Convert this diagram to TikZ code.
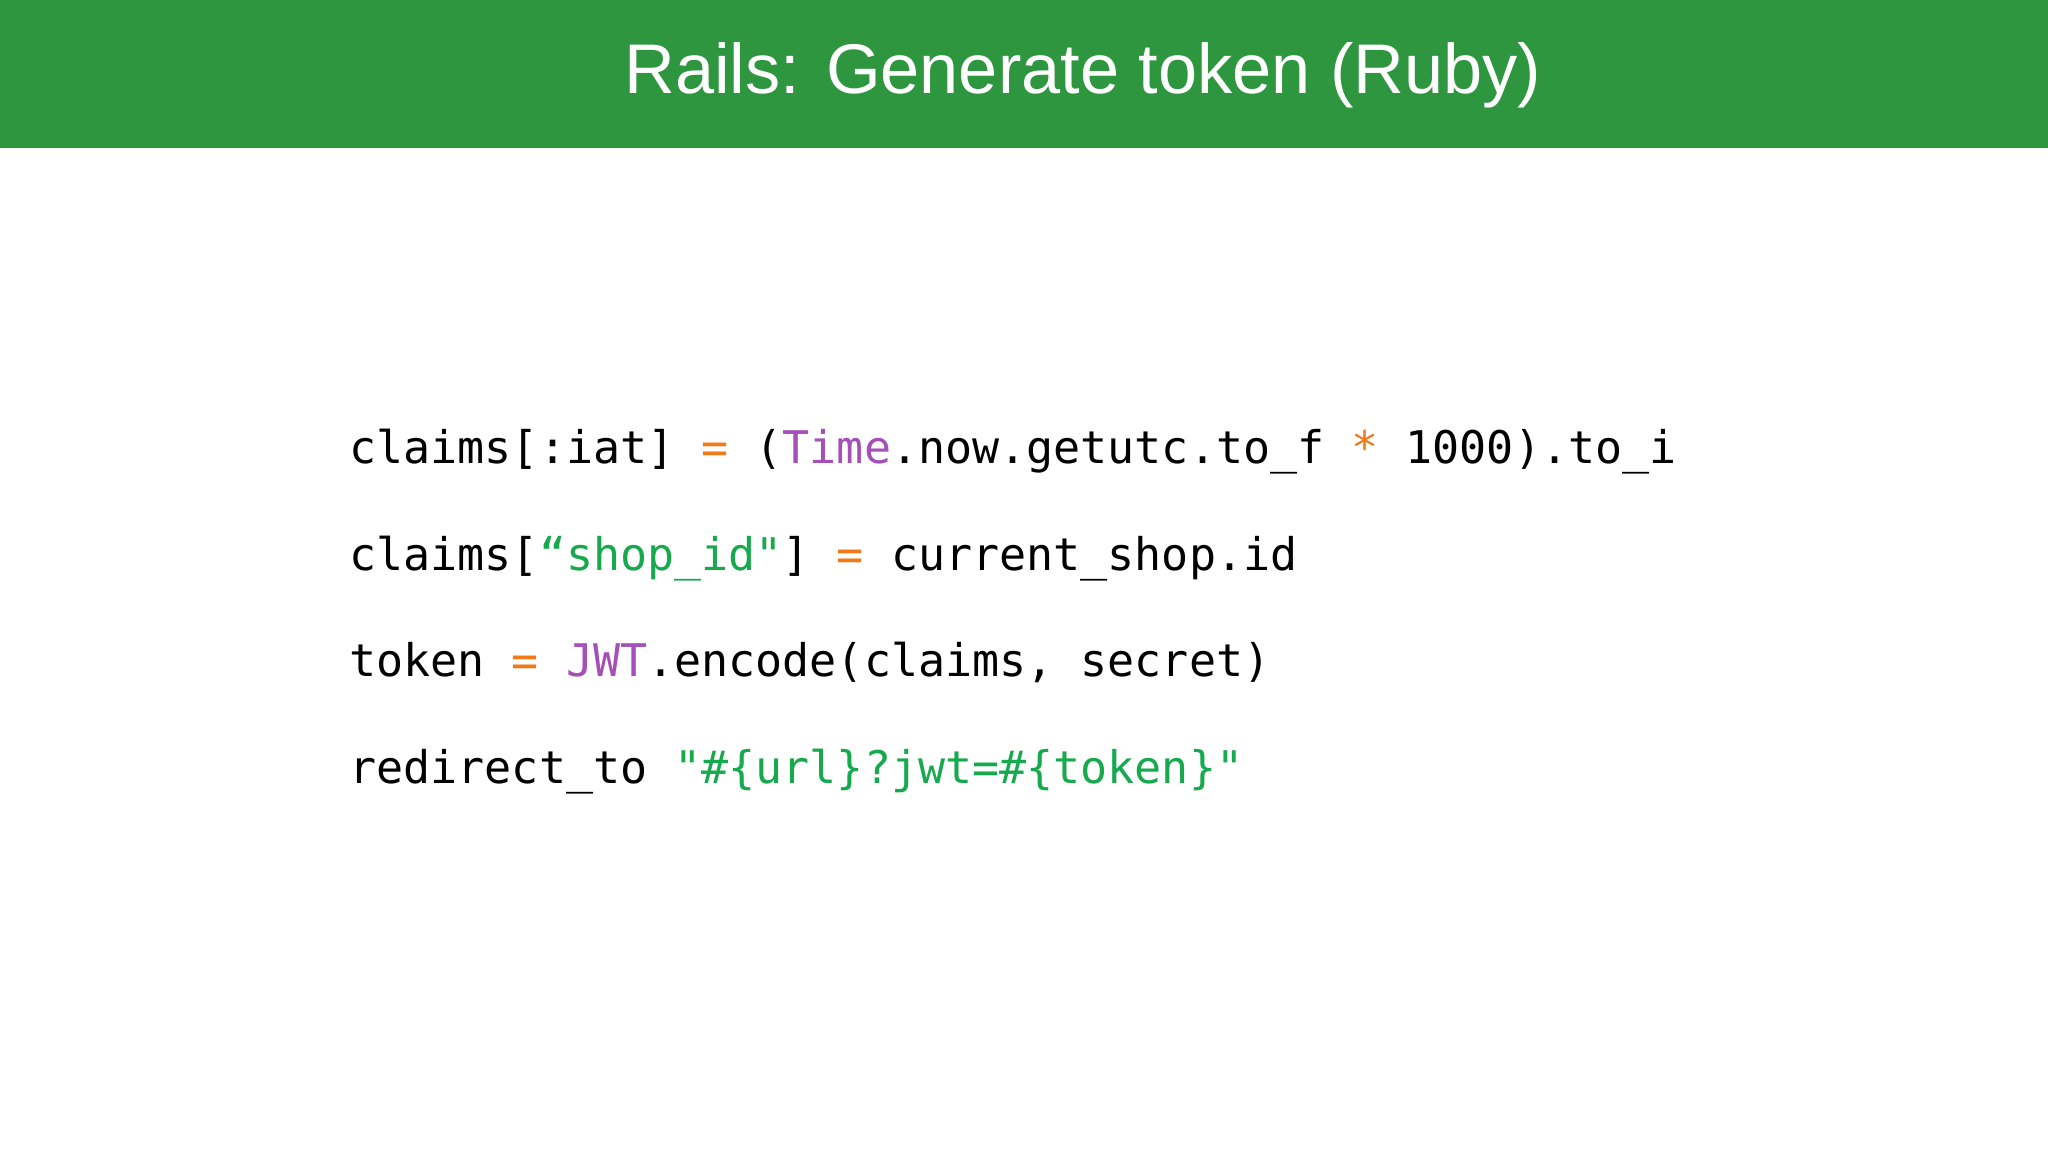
\documentclass[tikz,border=0pt]{standalone}
\usepackage{fontspec}
\setmainfont{Liberation Sans}
\newfontfamily\codefont{DejaVu Sans Mono}
\definecolor{bannergreen}{HTML}{2E963F}
\definecolor{opc}{HTML}{F07A1A}
\definecolor{kwc}{HTML}{A54FB8}
\definecolor{strc}{HTML}{16A94E}
\tikzset{code/.style={anchor=base west,inner sep=0pt,font=\codefont\fontsize{12.8pt}{15pt}\selectfont}}
\newcommand{\op}[1]{\textcolor{opc}{#1}}
\newcommand{\kw}[1]{\textcolor{kwc}{#1}}
\newcommand{\str}[1]{\textcolor{strc}{#1}}
\begin{document}
\begin{tikzpicture}[x=0.013061cm,y=-0.013061cm]
\useasboundingbox (0,0) rectangle (1568,882);
\fill[white] (0,0) rectangle (1568,882);
\fill[bannergreen] (0,0) rectangle (1568,113);
\node[text=white,font=\fontsize{20pt}{24pt}\selectfont] (title) at (829,58) {Rails: Generate token (Ruby)};
\node[code] (l1) at (267,355) {claims[:iat] \op{=} (\kw{Time}.now.getutc.to\_f \op{*} 1000).to\_i};
\node[code] (l2) at (267,437) {claims[\str{“shop\_id"}] \op{=} current\_shop.id};
\node[code] (l3) at (267,518) {token \op{=} \kw{JWT}.encode(claims, secret)};
\node[code] (l4) at (267,600) {redirect\_to \str{"\#\{url\}?jwt=\#\{token\}"}};
\end{tikzpicture}
\end{document}
